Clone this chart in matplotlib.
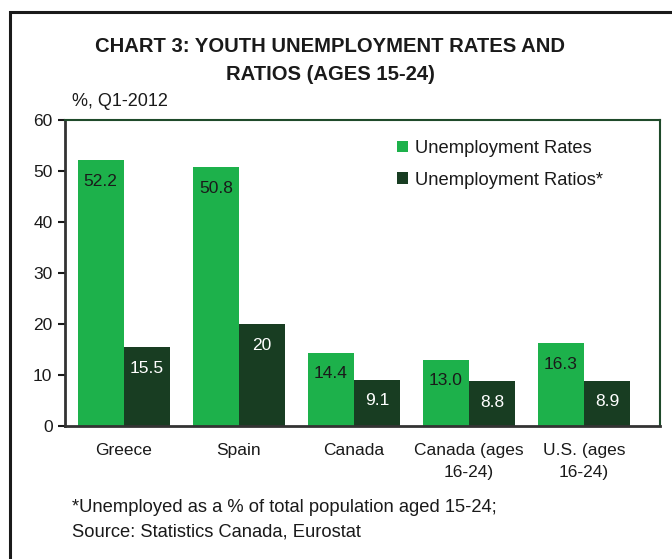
import matplotlib
matplotlib.use("Agg")
import matplotlib.pyplot as plt
import matplotlib.patches as mpatches
import numpy as np

categories = ["Greece", "Spain", "Canada", "Canada (ages\n16-24)", "U.S. (ages\n16-24)"]
rates = [52.2, 50.8, 14.4, 13.0, 16.3]
ratios = [15.5, 20, 9.1, 8.8, 8.9]
rate_labels = ["52.2", "50.8", "14.4", "13.0", "16.3"]
ratio_labels = ["15.5", "20", "9.1", "8.8", "8.9"]
yticks = [0, 10, 20, 30, 40, 50, 60]

plt.rcParams['font.family'] = ['Liberation Sans', 'DejaVu Sans']

W, H = 672, 559
fig = plt.figure(figsize=(W/100, H/100), dpi=100)
fig.patch.set_facecolor('white')

# outer frame
fig.add_artist(mpatches.Rectangle((10/W, -0.2), 1.2, 1.2 - 12/H,
                                  transform=fig.transFigure, fill=False,
                                  edgecolor='#1a1a1a', linewidth=2.2, clip_on=False))

ax = fig.add_axes([65/W, 1-426/H, (660-65)/W, (426-120)/H])
light = '#1db14b'
dark = '#183d22'
x = np.arange(len(categories))
w = 0.4
b1 = ax.bar(x - w/2, rates, w, color=light, zorder=2)
b2 = ax.bar(x + w/2, ratios, w, color=dark, zorder=2)

for xi, v, lab in zip(x, rates, rate_labels):
    ax.text(xi - w/2, v - 2.7, lab, ha='center', va='top', fontsize=12.5, color='#1a1a1a')
for xi, v, lab in zip(x, ratios, ratio_labels):
    ax.text(xi + w/2, v - 2.7, lab, ha='center', va='top', fontsize=12.5, color='white')

ax.set_ylim(0, 60)
ax.set_xlim(-0.51, 4.66)
ax.set_yticks(yticks)
ax.set_xticks(x)
ax.set_xticklabels(categories, fontsize=12.5, color='#1a1a1a', linespacing=1.6)
ax.tick_params(axis='x', length=0, pad=12)
ax.tick_params(axis='y', length=5, width=1.5, direction='out', labelsize=12.5, colors='#1a1a1a', pad=4)
for s in ['left', 'bottom']:
    ax.spines[s].set_color('#333333')
    ax.spines[s].set_linewidth(2)
for s in ['top', 'right']:
    ax.spines[s].set_color('#1f4a2a')
    ax.spines[s].set_linewidth(1.5)

leg = ax.legend([b1, b2], ["Unemployment Rates", "Unemployment Ratios*"],
                loc='upper left', bbox_to_anchor=((397-65)/(660-65), 1-(140-120)/(426-120)),
                frameon=False, fontsize=13.2, handlelength=0.6, handleheight=0.6,
                handletextpad=0.4, labelspacing=0.8, borderaxespad=0, borderpad=0)
for t in leg.get_texts():
    t.set_color('#1a1a1a')

fig.text(330/W, 1-47/H, "CHART 3: YOUTH UNEMPLOYMENT RATES AND", ha='center', va='center',
         fontsize=14.6, fontweight='bold', color='#1a1a1a')
fig.text(330/W, 1-75/H, "RATIOS (AGES 15-24)", ha='center', va='center',
         fontsize=14.6, fontweight='bold', color='#1a1a1a')
fig.text(72/W, 1-102/H, "%, Q1-2012", ha='left', va='center', fontsize=13, color='#1a1a1a')
fig.text(72/W, 1-507/H, "*Unemployed as a % of total population aged 15-24;", ha='left', va='center',
         fontsize=13.2, color='#1a1a1a')
fig.text(72/W, 1-532/H, "Source: Statistics Canada, Eurostat", ha='left', va='center',
         fontsize=13.2, color='#1a1a1a')

fig.savefig("out.png", dpi=100)
